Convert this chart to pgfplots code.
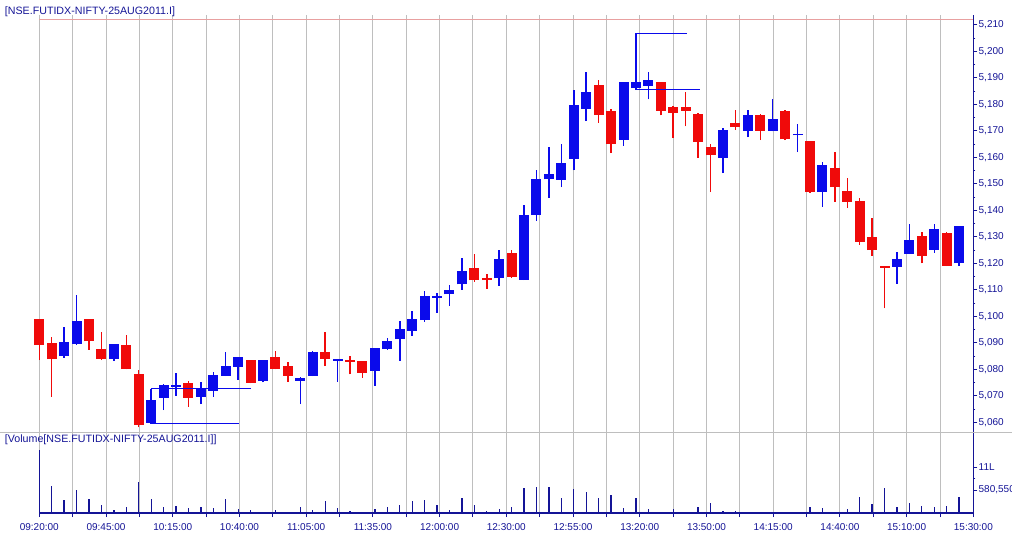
\documentclass[border=0pt]{standalone}
\usepackage{pgfplots}
\pgfplotsset{compat=1.18}
\usepackage{pgfplotstable}
\usepackage{fontspec}
\setmainfont{Liberation Sans}
\definecolor{cblue}{RGB}{10,10,235}
\definecolor{cred}{RGB}{240,10,10}
\definecolor{navy}{RGB}{20,20,150}
\definecolor{vbar}{RGB}{20,20,150}
\definecolor{gridgray}{RGB}{190,190,190}
\definecolor{lred}{RGB}{232,160,160}

\pgfplotstableread{
i O H L C
2 5085.0 5096.0 5084.4 5090.4
3 5089.6 5108.0 5089.3 5098.2
6 5083.9 5089.7 5083.1 5089.5
9 5059.9 5072.6 5059.4 5068.4
10 5069.3 5074.3 5064.6 5074.1
11 5073.5 5078.7 5070.0 5074.1
13 5069.7 5075.1 5066.9 5072.6
14 5071.9 5078.9 5069.7 5077.8
15 5077.6 5086.6 5077.4 5081.2
16 5081.0 5084.8 5076.0 5084.5
18 5075.7 5083.7 5075.1 5083.5
21 5075.7 5077.0 5066.9 5076.7
22 5077.6 5087.0 5077.4 5086.6
24 5083.2 5084.0 5075.3 5083.8
27 5079.5 5088.1 5073.8 5087.9
28 5087.6 5091.9 5087.3 5090.6
29 5091.4 5098.2 5083.2 5095.2
30 5094.5 5102.0 5092.6 5098.9
31 5098.6 5109.5 5097.9 5107.6
32 5107.0 5109.0 5101.3 5107.6
33 5108.3 5111.8 5104.0 5109.9
34 5112.1 5122.1 5110.1 5117.0
37 5114.3 5125.0 5111.5 5121.8
39 5113.9 5141.9 5113.7 5138.2
40 5138.4 5155.1 5136.0 5152.0
41 5151.7 5163.9 5144.8 5153.9
42 5151.6 5165.2 5148.8 5158.0
43 5159.5 5185.5 5155.1 5179.9
44 5178.2 5192.2 5173.7 5184.6
47 5166.7 5188.5 5164.5 5188.3
48 5186.2 5206.9 5185.5 5188.6
49 5186.9 5192.2 5181.9 5189.1
55 5159.8 5171.2 5154.1 5170.2
57 5170.0 5178.0 5167.7 5175.9
59 5170.0 5181.9 5169.8 5174.6
61 5168.3 5172.7 5162.0 5168.9
63 5146.9 5158.2 5141.3 5157.0
69 5118.7 5124.3 5112.4 5121.8
70 5123.7 5135.0 5123.5 5128.7
72 5125.0 5135.0 5124.0 5132.8
74 5120.0 5134.2 5119.1 5134.0
}\up

\pgfplotstableread{
i O H L C
0 5098.9 5099.1 5083.5 5089.1
1 5090.0 5092.3 5069.7 5083.9
4 5098.9 5099.1 5087.3 5090.6
5 5087.6 5094.2 5083.5 5083.9
7 5089.1 5092.9 5080.0 5080.1
8 5078.2 5079.7 5058.1 5059.0
12 5074.7 5075.6 5065.9 5069.3
17 5083.5 5083.7 5074.7 5074.9
19 5084.6 5087.0 5080.0 5080.2
20 5081.2 5082.8 5075.3 5077.6
23 5086.6 5094.2 5081.2 5083.9
25 5083.5 5085.1 5078.1 5082.9
26 5083.1 5083.3 5076.8 5078.7
35 5118.1 5123.4 5113.0 5113.6
36 5114.3 5115.9 5110.5 5113.7
38 5124.0 5125.0 5114.6 5114.9
45 5187.2 5189.4 5173.0 5176.2
46 5177.4 5178.1 5161.6 5165.0
50 5188.4 5188.6 5175.9 5177.7
51 5179.2 5179.4 5167.3 5176.7
52 5179.0 5184.6 5171.7 5177.7
53 5176.5 5176.7 5159.8 5165.8
54 5163.9 5164.9 5146.9 5160.8
56 5173.0 5178.0 5170.5 5171.4
58 5175.9 5176.3 5166.5 5170.0
60 5177.4 5178.0 5166.5 5166.8
62 5166.1 5166.3 5146.7 5146.9
64 5156.1 5162.0 5143.2 5148.8
65 5147.2 5152.4 5140.9 5143.2
66 5143.4 5144.8 5127.1 5128.1
67 5130.0 5137.1 5122.8 5125.0
68 5118.9 5119.0 5103.0 5118.3
71 5130.2 5131.9 5120.0 5122.8
73 5131.3 5131.9 5119.0 5119.1
}\down

\pgfplotstableread{
i V
0 1582000
1 690000
2 336600
3 589000
4 361800
5 210000
6 84000
7 160000
8 774000
9 362000
10 151000
11 185000
12 126000
13 151000
14 126000
15 362000
16 101000
17 84000
18 17000
19 84000
20 34000
21 151000
22 84000
23 311000
24 120000
25 50000
26 10000
27 93000
28 143000
29 194000
30 294000
31 320000
32 194000
33 76000
34 379000
35 194000
36 42000
37 93000
38 143000
39 623000
40 648000
41 648000
42 379000
43 597000
44 522000
45 379000
46 446000
47 118000
48 370000
49 93000
50 25000
51 93000
52 8000
53 143000
54 252000
55 50000
56 50000
57 8000
58 15000
59 10000
60 10000
61 34000
62 151000
63 126000
64 34000
65 109000
66 404000
67 236000
68 640000
69 151000
70 261000
71 185000
72 151000
73 185000
74 404000
}\vol

\newcommand{\gridticks}{0,2.684,5.368,8.051,10.735,13.419,16.103,18.787,21.470,24.154,26.838,29.522,32.206,34.889,37.573,40.257,42.941,45.625,48.308,50.992,53.676,56.360,59.044,61.727,64.411,67.095,69.779,72.463,75.146}

\pgfplotsset{
  candle/.style n args={2}{draw=none, mark=none, forget plot,
    error bars/.cd, y dir=plus, y explicit, error mark=none,
    error bar style={draw=#1, line width=#2, line cap=butt}},
}

\begin{document}
\begin{tikzpicture}
\useasboundingbox (0,0) rectangle (759pt,402pt);
\begin{axis}[
  at={(0pt,78pt)}, anchor=south west,
  width=730pt, height=312.75pt, scale only axis,
  xmin=-3.162, xmax=75.146,
  ymin=5056.34, ymax=5213.77,
  clip=false,
  axis x line*=bottom, axis y line*=right,
  x axis line style={draw=none},
  y axis line style={draw=navy, line width=0.8pt},
  xtick/.expanded=\gridticks, xticklabels={},
  x tick style={draw=none},
  xmajorgrids=true,
  major grid style={draw=gridgray, line width=0.75pt},
  ytick={5060,5070,...,5210},
  minor ytick={5065,5075,...,5205},
  tick align=outside,
  y tick style={draw=navy, line width=0.75pt},
  major tick length=3pt, minor tick length=1.6pt,
  scaled y ticks=false,
  yticklabel style={font=\fontsize{7.5}{8}\selectfont, text=navy, inner sep=0.8pt},
  /pgf/number format/.cd, 1000 sep={,}, assume math mode=true,
]
\addplot[lred, line width=0.75pt, mark=none, forget plot] coordinates {(0,5211.9) (75.146,5211.9)};
% wicks
\addplot[candle={cblue}{1.1pt}] table[x=i, y=L, y error plus expr={\thisrow{H}-\thisrow{L}}] {\up};
\addplot[candle={cred}{1.1pt}] table[x=i, y=L, y error plus expr={\thisrow{H}-\thisrow{L}}] {\down};
% bodies
\addplot[candle={cblue}{7.5pt}] table[x=i, y=O, y error plus expr={\thisrow{C}-\thisrow{O}}] {\up};
\addplot[candle={cred}{7.5pt}] table[x=i, y=C, y error plus expr={\thisrow{O}-\thisrow{C}}] {\down};
% high/low marker lines
\addplot[cblue, line width=0.8pt, mark=none] coordinates {(9,5072.6) (17.0,5072.6)};
\addplot[cblue, line width=0.8pt, mark=none] coordinates {(9,5059.4) (16.04,5059.4)};
\addplot[cblue, line width=0.8pt, mark=none] coordinates {(48,5206.8) (52.08,5206.8)};
\addplot[cblue, line width=0.8pt, mark=none] coordinates {(48,5185.5) (53.15,5185.5)};
\end{axis}

\begin{axis}[
  at={(0pt,17.25pt)}, anchor=south west,
  width=730pt, height=60.75pt, scale only axis,
  xmin=-3.162, xmax=75.146,
  ymin=0, ymax=2044500,
  clip=false,
  axis x line*=bottom, axis y line*=right,
  x axis line style={draw=none},
  y axis line style={draw=navy, line width=0.8pt},
  xtick/.expanded=\gridticks,
  xticklabels={09:20:00,,09:45:00,,10:15:00,,10:40:00,,11:05:00,,11:35:00,,12:00:00,,12:30:00,,12:55:00,,13:20:00,,13:50:00,,14:15:00,,14:40:00,,15:10:00,,15:30:00},
  xmajorgrids=true,
  major grid style={draw=gridgray, line width=0.75pt},
  ytick={580550,1161100},
  yticklabels={{580,550},{11L}},
  minor ytick={870825},
  tick align=outside,
  tick style={draw=navy, line width=0.75pt},
  major tick length=3pt, minor tick length=1.6pt,
  scaled y ticks=false, scaled x ticks=false,
  tick label style={font=\fontsize{7.5}{8}\selectfont, text=navy},
  xticklabel style={yshift=-1.5pt},
  yticklabel style={inner sep=0.8pt},
]
\addplot[ycomb, vbar, line width=1pt, mark=none] table[x=i, y=V] {\vol};
\addplot[navy, line width=0.8pt, mark=none] coordinates {(0,0) (75.146,0)};
\end{axis}

\draw[gridgray, line width=0.75pt] (0pt,78pt) -- (759pt,78pt);
\node[anchor=west, inner sep=0pt, text=navy, font=\fontsize{8}{9}\selectfont] at (3.5pt,393pt) {[NSE.FUTIDX-NIFTY-25AUG2011.I]};
\node[anchor=west, inner sep=0pt, text=navy, font=\fontsize{8}{9}\selectfont] at (3.5pt,72pt) {[Volume[NSE.FUTIDX-NIFTY-25AUG2011.I]]};
\end{tikzpicture}
\end{document}
